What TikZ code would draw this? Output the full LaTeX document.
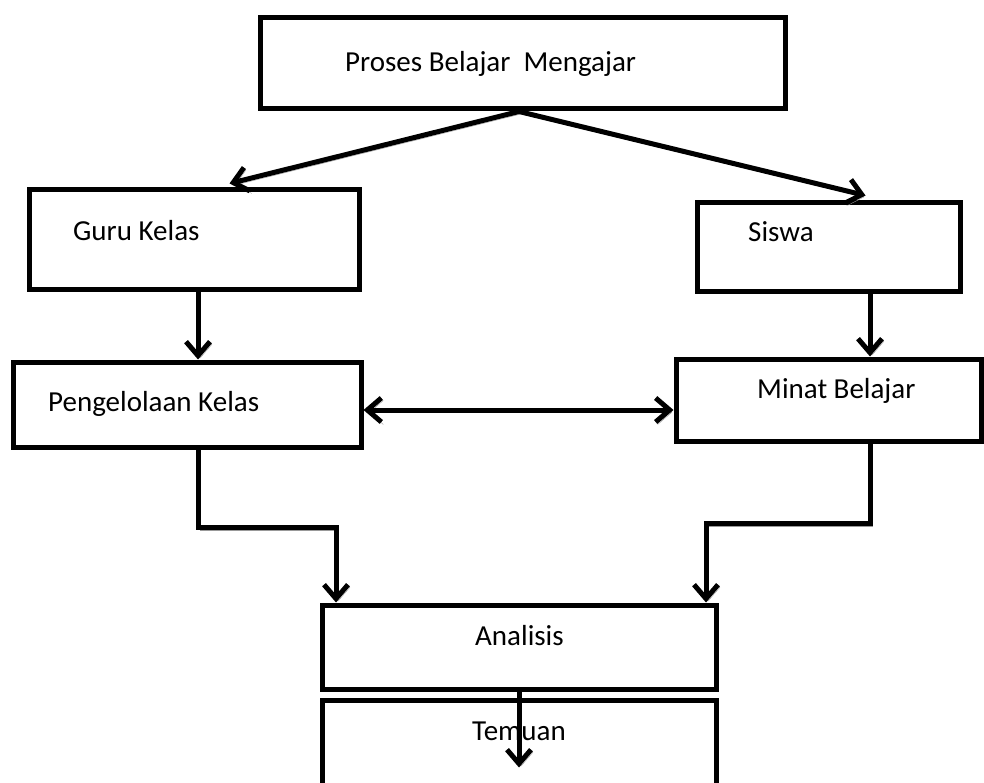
\documentclass[tikz,border=0pt]{standalone}
\usepackage{fontspec}
\setmainfont{Carlito}
\usetikzlibrary{arrows.meta}
\begin{document}
\begin{tikzpicture}[x=1pt,y=-1pt,
  box/.style={draw, line width=5pt, rectangle, inner sep=0pt},
  lbl/.style={anchor=base west, inner sep=0pt, font=\fontsize{29}{34}\selectfont},
  shadowed/.style={preaction={draw=black!40, transform canvas={shift={(2pt,-2.5pt)}}}},
  conn/.style={line width=5pt, shadowed, -{Straight Barb[length=14pt,width=24pt]}},
  dconn/.style={line width=5pt, shadowed, {Straight Barb[length=14pt,width=24pt]}-{Straight Barb[length=14pt,width=24pt]}}
]
\useasboundingbox (0,0) rectangle (984,783);
\clip (0,0) rectangle (984,783);

% boxes
\node[box, minimum width=525pt, minimum height=91pt] (pbm) at (522.5,63.5) {};
\node[box, minimum width=330pt, minimum height=100pt] (guru) at (194,240) {};
\node[box, minimum width=263pt, minimum height=89pt] (siswa) at (828.5,247.5) {};
\node[box, minimum width=348pt, minimum height=85pt] (peng) at (187,404.5) {};
\node[box, minimum width=305pt, minimum height=82pt] (minat) at (828.5,400) {};
\node[box, minimum width=394pt, minimum height=84pt] (ana) at (519,647) {};
\node[box, minimum width=394pt, minimum height=100pt] (tem) at (519,750) {};

% labels
\node[lbl] (tpbm) at (345,72) {Proses Belajar\ \ Mengajar};
\node[lbl] (tguru) at (73,241) {Guru Kelas};
\node[lbl] (tsiswa) at (748,242) {Siswa};
\node[lbl] (tpeng) at (48,411) {Pengelolaan Kelas};
\node[lbl] (tminat) at (757,398) {Minat Belajar};
\node[lbl] (tana) at (475,645) {Analisis};
\node[lbl] (ttem) at (472,740) {Temuan};

% connectors
\coordinate (s0) at ([xshift=-3.5pt]pbm.south);
\draw[conn] (s0) -- ([xshift=203pt,yshift=4pt]guru.north west);
\draw[conn] (s0) -- ([xshift=171pt,yshift=5pt]siswa.north west);

\coordinate (g1) at ([xshift=4pt]guru.south);
\draw[conn] (g1) -- (g1 |- peng.north);

\coordinate (si1) at ([xshift=41.5pt]siswa.south);
\draw[conn] (si1) -- (si1 |- minat.north);

\coordinate (d1) at ([yshift=-5.5pt]peng.east);
\draw[dconn] (d1) -- (d1 -| minat.west);

\coordinate (p1) at ([xshift=11pt]peng.south);
\draw[conn] (p1) -- ++(0,78) -| ([xshift=-183pt]ana.north);

\coordinate (m1) at ([xshift=41.5pt]minat.south);
\draw[conn] (m1) -- ++(0,80) -| ([xshift=187pt]ana.north);

\draw[conn] (ana.south) -- ([yshift=-70pt]tem.north);
\end{tikzpicture}
\end{document}
